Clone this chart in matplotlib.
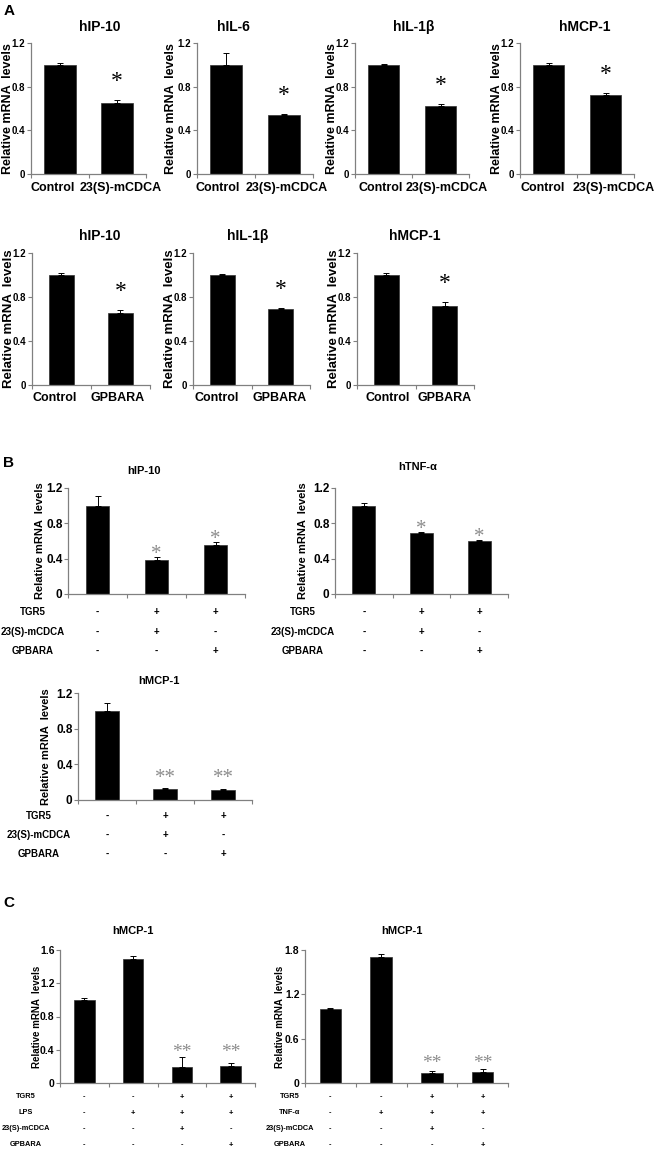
import numpy as np
import matplotlib
matplotlib.use("Agg")
import matplotlib.pyplot as plt
from matplotlib.transforms import blended_transform_factory

# ---- data ----

# panel A, top row: control vs 23(S)-mCDCA
a1_genes = ["hIP-10", "hIL-6", "hIL-1β", "hMCP-1"]
a1_groups = ["Control", "23(S)-mCDCA"]
a1_means = [[1.0, 0.65], [1.0, 0.54], [1.0, 0.62], [1.0, 0.72]]
a1_errs = [[0.02, 0.03], [0.11, 0.01], [0.01, 0.02], [0.02, 0.02]]

# panel A, second row: control vs GPBARA
a2_genes = ["hIP-10", "hIL-1β", "hMCP-1"]
a2_groups = ["Control", "GPBARA"]
a2_means = [[1.0, 0.65], [1.0, 0.69], [1.0, 0.72]]
a2_errs = [[0.02, 0.03], [0.01, 0.01], [0.02, 0.03]]

# panel B
b_genes = ["hIP-10", "hTNF-α", "hMCP-1"]
b_means = [[1.0, 0.38, 0.56], [1.0, 0.69, 0.60], [1.0, 0.12, 0.11]]
b_errs = [[0.11, 0.04, 0.03], [0.03, 0.01, 0.01], [0.09, 0.01, 0.01]]
b_marks = [["", "*", "*"], ["", "*", "*"], ["", "**", "**"]]
b_rows = ["TGR5", "23(S)-mCDCA", "GPBARA"]
b_signs = [["-", "+", "+"], ["-", "+", "-"], ["-", "-", "+"]]

# panel C
c_genes = ["hMCP-1", "hMCP-1"]
c_means = [[1.0, 1.49, 0.19, 0.20], [1.0, 1.71, 0.135, 0.15]]
c_errs = [[0.02, 0.04, 0.12, 0.04], [0.02, 0.04, 0.03, 0.04]]
c_marks = [["", "", "**", "**"], ["", "", "**", "**"]]
c_rows = [["TGR5", "LPS", "23(S)-mCDCA", "GPBARA"],
          ["TGR5", "TNF-α", "23(S)-mCDCA", "GPBARA"]]
c_signs = [["-", "-", "+", "+"], ["-", "+", "+", "+"],
           ["-", "-", "+", "-"], ["-", "-", "-", "+"]]
c_ymax = [1.6, 1.8]
c_step = [0.4, 0.6]

YLABEL = "Relative mRNA  levels"

# ---- layout helpers (pixel coordinates of the 664x1155 picture) ----
W, H = 664, 1155
SANS = ["Liberation Sans", "DejaVu Sans"]
NARROW = ["Liberation Sans Narrow", "Liberation Sans", "DejaVu Sans"]
SERIF = ["Liberation Serif", "DejaVu Serif"]
SPINE = "#808080"

fig = plt.figure(figsize=(W / 100, H / 100), dpi=100)
fig.patch.set_facecolor("white")


def px(x, y):
    return x / W, 1 - y / H


def make_axes(x0, x1, ytop, yzero):
    return fig.add_axes([x0 / W, 1 - yzero / H, (x1 - x0) / W, (yzero - ytop) / H])


def fmt(v):
    return "0" if abs(v) < 1e-9 else f"{v:.1f}"


def bars(ax, means, errs, ymax, step, width, tick_font, tick_size, ylab_size, ylab_gap):
    n = len(means)
    x = np.arange(n)
    ax.bar(x, means, width, color="black", edgecolor="#303030", linewidth=0.5, zorder=2)
    ax.errorbar(x, means, yerr=[np.zeros(n), errs], fmt="none", ecolor="black",
                elinewidth=0.7, capsize=2, capthick=0.7, zorder=3)
    ax.set_xlim(-0.5, n - 0.5)
    ax.set_ylim(0, ymax)
    ticks = np.arange(0, ymax + 1e-9, step)
    ax.set_yticks(ticks)
    ax.set_yticklabels([fmt(t) for t in ticks], family=tick_font, fontsize=tick_size,
                       fontweight="bold")
    ax.set_xticks(x)
    ax.set_xticks(np.arange(-0.5, n, 1.0), minor=True)
    ax.tick_params(axis="x", which="major", length=0)
    ax.tick_params(axis="x", which="minor", length=3, color=SPINE, width=0.8)
    ax.tick_params(axis="y", length=3, color=SPINE, width=0.8, pad=1)
    for s in ("top", "right"):
        ax.spines[s].set_visible(False)
    for s in ("left", "bottom"):
        ax.spines[s].set_color(SPINE)
        ax.spines[s].set_linewidth(0.9)
    ax.set_ylabel(YLABEL, family=SANS, fontsize=ylab_size, fontweight="bold")
    # right edge of the rotated label sits ylab_gap pixels left of the axis
    ax.yaxis.set_label_coords(-ylab_gap / ax.bbox.width * fig.dpi / 100, 0.5)


def title(text, cx, cy, size):
    fx, fy = px(cx, cy)
    fig.text(fx, fy, text, ha="center", va="center", family=SANS, fontsize=size,
             fontweight="bold")


def group_labels(names, centers, cy, size):
    for name, cx in zip(names, centers):
        fx, fy = px(cx, cy)
        fig.text(fx, fy, name, ha="center", va="center", family=SANS, fontsize=size,
                 fontweight="bold")


def stars(ax, means, errs, marks, pad, size, color, grouped):
    tops = [m + e for m, e, k in zip(means, errs, marks) if k]
    for i, (m, e, k) in enumerate(zip(means, errs, marks)):
        if not k:
            continue
        y = (max(tops) if grouped else m + e) + pad
        ax.text(i, y, k, ha="center", va="center", family=SERIF, fontsize=size,
                color=color, zorder=4)


def conditions(ax, names, signs, row_ys, label_cx, size):
    trans = blended_transform_factory(ax.transData, fig.transFigure)
    for name, row, y in zip(names, signs, row_ys):
        fx, fy = px(label_cx, y)
        fig.text(fx, fy, name, ha="center", va="center", family=NARROW, fontsize=size,
                 fontweight="bold")
        for i, s in enumerate(row):
            ax.text(i, fy, s, transform=trans, ha="center", va="center", family=NARROW,
                    fontsize=size, fontweight="bold", clip_on=False)


# ---- panel A, top row ----
a1_box = [(31, 146), (197, 313), (355, 469), (520, 634)]
a1_title_x = [100, 233, 414, 585]
a1_label_x = [[53, 121], [218, 287], [381, 447], [543, 614]]
a1_gap = [17, 20, 17, 17]
for k, gene in enumerate(a1_genes):
    x0, x1 = a1_box[k]
    ax = make_axes(x0, x1, 43, 174)
    bars(ax, a1_means[k], a1_errs[k], 1.2, 0.4, 0.55, NARROW, 7, 9, a1_gap[k])
    ax.set_xticklabels([])
    group_labels(a1_groups, a1_label_x[k], 188, 9)
    title(gene, a1_title_x[k], 27, 10)
    stars(ax, a1_means[k], a1_errs[k], ["", "*"], 0.17, 17, "black", False)

# ---- panel A, second row ----
a2_box = [(32, 150), (193, 310), (357, 474)]
a2_title_x = [100, 248, 415]
a2_label_x = [[55, 118], [217, 280], [388, 445]]
a2_gap = [17, 17, 17]
for k, gene in enumerate(a2_genes):
    x0, x1 = a2_box[k]
    ax = make_axes(x0, x1, 253, 385)
    bars(ax, a2_means[k], a2_errs[k], 1.2, 0.4, 0.42, NARROW, 7, 9.5, a2_gap[k])
    ax.set_xticklabels([])
    group_labels(a2_groups, a2_label_x[k], 398, 9)
    title(gene, a2_title_x[k], 236, 10)
    stars(ax, a2_means[k], a2_errs[k], ["", "*"], 0.17, 17, "black", False)

# ---- panel B ----
b_box = [(68, 245, 488, 594), (335, 508, 488, 594), (78, 252, 693, 800)]
b_title_xy = [(144, 471), (418, 467), (159, 681)]
b_row_ys = [[612, 632, 651], [612, 632, 651], [816, 835, 854]]
b_label_x = [33, 303, 39]
b_gap = [23, 27, 27]
for k, gene in enumerate(b_genes):
    x0, x1, yt, yz = b_box[k]
    ax = make_axes(x0, x1, yt, yz)
    bars(ax, b_means[k], b_errs[k], 1.2, 0.4, 0.4, SANS, 8.5, 8, b_gap[k])
    ax.set_xticklabels([])
    title(gene, b_title_xy[k][0], b_title_xy[k][1], 8)
    grouped = b_marks[k][1] == "**"
    stars(ax, b_means[k], b_errs[k], b_marks[k], 0.11 if grouped else 0.03, 15,
          "#8c8c8c", grouped)
    conditions(ax, b_rows, b_signs, b_row_ys[k], b_label_x[k], 7)

# ---- panel C ----
c_box = [(60, 255), (305, 508)]
c_title_x = [133, 402]
c_row_ys = [1097, 1113, 1129, 1145]
c_label_x = [26, 290]
c_gap = [18, 20]
for k, gene in enumerate(c_genes):
    x0, x1 = c_box[k]
    ax = make_axes(x0, x1, 950, 1083)
    bars(ax, c_means[k], c_errs[k], c_ymax[k], c_step[k], 0.42, NARROW, 7.5, 7, c_gap[k])
    ax.set_xticklabels([])
    title(gene, c_title_x[k], 931, 8)
    stars(ax, c_means[k], c_errs[k], c_marks[k], 0.06 * c_ymax[k] / 1.6, 14, "#8c8c8c", True)
    conditions(ax, c_rows[k], c_signs, c_row_ys, c_label_x[k], 5.3)

# ---- panel letters ----
for letter, y in (("A", 11), ("B", 463), ("C", 903)):
    fx, fy = px(9, y)
    fig.text(fx, fy, letter, ha="center", va="center", family=SANS, fontsize=11,
             fontweight="bold")

fig.savefig("out.png", dpi=100, facecolor="white")
